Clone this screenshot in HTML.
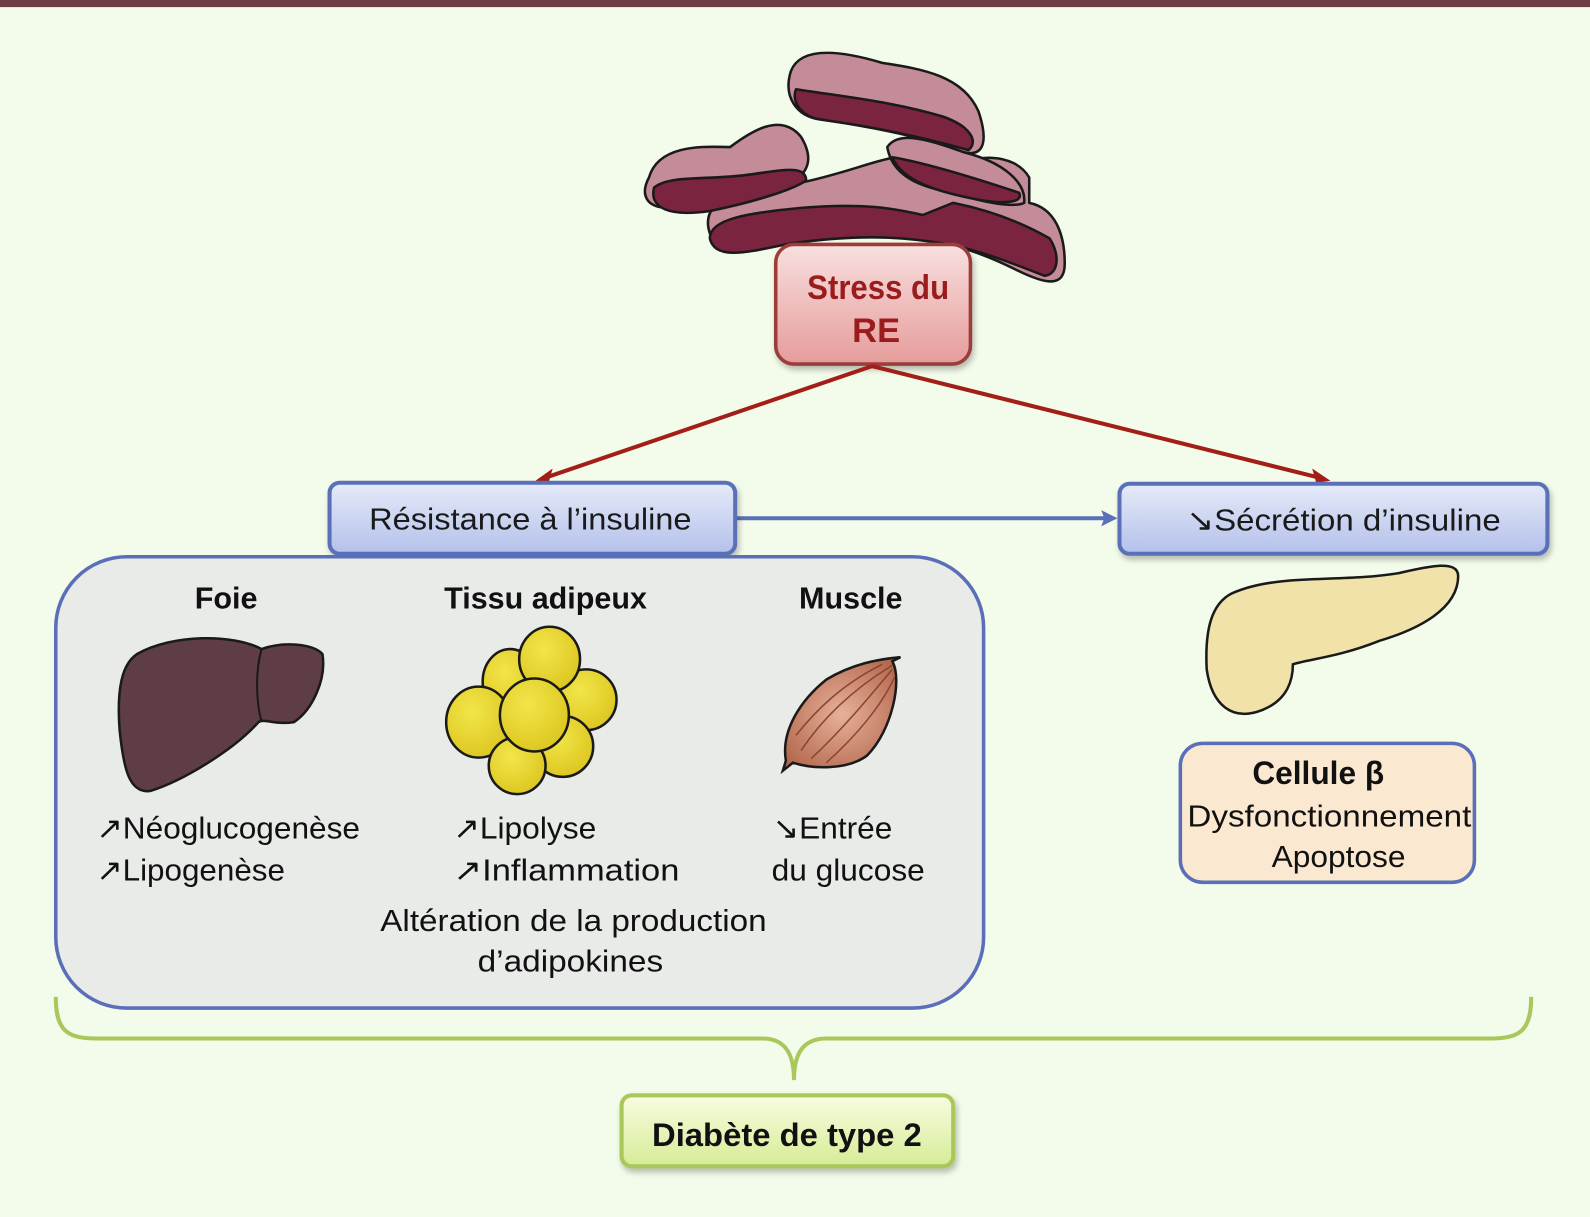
<!DOCTYPE html>
<html><head><meta charset="utf-8"><style>
html,body{margin:0;padding:0;background:#f3fbea;}
svg{display:block;}
text{font-family:"Liberation Sans",sans-serif;}
</style></head><body>
<svg width="1590" height="1217" viewBox="0 0 1568 1200" preserveAspectRatio="none" xmlns="http://www.w3.org/2000/svg">
<defs>
<linearGradient id="gr" x1="0" y1="0" x2="0" y2="1"><stop offset="0" stop-color="#f8e0e0"/><stop offset="1" stop-color="#e59c9a"/></linearGradient>
<linearGradient id="gb" x1="0" y1="0" x2="0" y2="1"><stop offset="0" stop-color="#e6ebf9"/><stop offset="1" stop-color="#b3c0ea"/></linearGradient>
<linearGradient id="gg" x1="0" y1="0" x2="0" y2="1"><stop offset="0" stop-color="#f7fce0"/><stop offset="1" stop-color="#d6ec96"/></linearGradient>
<radialGradient id="gy" cx="0.4" cy="0.35" r="0.7"><stop offset="0" stop-color="#f2e64a"/><stop offset="1" stop-color="#dcc51f"/></radialGradient>
<radialGradient id="gm" cx="0.5" cy="0.5" r="0.6"><stop offset="0" stop-color="#e7b09a"/><stop offset="1" stop-color="#b4694e"/></radialGradient>
<filter id="sh" x="-10%" y="-10%" width="130%" height="140%"><feDropShadow dx="2" dy="4" stdDeviation="3" flood-color="#000" flood-opacity="0.25"/></filter>
</defs>
<rect width="1568" height="1200" fill="#f3fbea"/>
<rect width="1568" height="7" fill="#6e3b47"/>

<!-- ER -->
<g stroke="#1a1a1a" stroke-width="2.5" stroke-linejoin="round">
<path d="M700 230 C690 200 720 185 790 180 C840 170 880 150 900 155 L930 170 C960 150 1000 150 1015 175 L1015 200 C1040 205 1050 230 1050 260 C1050 285 1030 280 1000 265 C970 250 950 245 920 235 C880 225 850 225 780 230 C740 240 710 255 700 230 Z" fill="#c48c98"/>
<path d="M700 235 C700 215 740 210 790 205 C850 200 880 205 910 212 L940 200 C965 205 1000 215 1035 235 C1045 250 1045 270 1030 272 C995 258 960 245 930 240 C880 232 840 232 780 240 C740 248 705 258 700 235 Z" fill="#7a2440"/>
<path d="M640 175 C650 140 700 145 720 145 C740 130 770 110 790 135 C805 160 795 175 770 185 C730 200 690 210 660 205 C635 205 632 190 640 175 Z" fill="#c48c98"/>
<path d="M645 185 C660 172 700 178 740 172 C770 168 795 162 795 178 C780 188 740 200 700 208 C660 214 640 205 645 185 Z" fill="#7a2440"/>
<path d="M780 70 C790 45 830 50 870 62 C910 68 950 75 965 110 C975 140 970 155 950 150 C910 135 860 125 810 118 C785 115 772 95 780 70 Z" fill="#c48c98"/>
<path d="M785 88 C830 95 880 100 930 115 C958 125 965 140 955 148 C910 135 860 125 810 118 C790 115 780 100 785 88 Z" fill="#7a2440"/>
<path d="M875 145 C885 130 910 135 950 150 C990 160 1012 180 1010 200 C1000 205 970 200 940 190 C910 185 880 175 875 145 Z" fill="#c48c98"/>
<path d="M880 155 C910 160 960 175 1005 190 C1010 200 990 202 960 196 C930 190 890 180 880 155 Z" fill="#7a2440"/>
</g>

<!-- Stress box -->
<rect x="765" y="241" width="192" height="118" rx="18" fill="url(#gr)" stroke="#9c3c3a" stroke-width="3.5" filter="url(#sh)"/>
<text x="866" y="295" font-size="34" font-weight="bold" fill="#9b1c1c" text-anchor="middle" textLength="140" lengthAdjust="spacingAndGlyphs">Stress du</text>
<text x="864" y="337" font-size="34" font-weight="bold" fill="#9b1c1c" text-anchor="middle">RE</text>

<!-- red arrows -->
<g stroke="#a31e16" stroke-width="4" fill="none">
<line x1="860" y1="361" x2="535" y2="472"/>
<line x1="860" y1="361" x2="1305" y2="472"/>
</g>
<path d="M528 474 L545 462 L541 476 Z" fill="#a31e16"/>
<path d="M1312 474 L1294 462 L1298 476 Z" fill="#a31e16"/>

<!-- blue arrow -->
<line x1="726" y1="511" x2="1092" y2="511" stroke="#5b70b8" stroke-width="4"/>
<path d="M1102 511 L1086 503 L1089 511 L1086 519 Z" fill="#5b70b8"/>

<!-- Résistance / Sécrétion boxes -->
<rect x="325" y="476" width="400" height="70" rx="10" fill="url(#gb)" stroke="#5a6fb8" stroke-width="4" filter="url(#sh)"/>
<text x="523" y="522" font-size="30" fill="#1a1a1a" text-anchor="middle" textLength="318" lengthAdjust="spacingAndGlyphs">Résistance à l’insuline</text>
<rect x="1104" y="477" width="422" height="69" rx="10" fill="url(#gb)" stroke="#5a6fb8" stroke-width="4" filter="url(#sh)"/>
<text x="1325" y="523" font-size="30" fill="#1a1a1a" text-anchor="middle" textLength="310" lengthAdjust="spacingAndGlyphs">↘Sécrétion d’insuline</text>

<!-- big gray box -->
<rect x="55" y="549" width="915" height="445" rx="70" fill="#e8ebe8" stroke="#5a6fb8" stroke-width="3.5"/>
<g font-size="30" font-weight="bold" fill="#111" text-anchor="middle">
<text x="223" y="600" textLength="62" lengthAdjust="spacingAndGlyphs">Foie</text>
<text x="538" y="600" textLength="200" lengthAdjust="spacingAndGlyphs">Tissu adipeux</text>
<text x="839" y="600" textLength="102" lengthAdjust="spacingAndGlyphs">Muscle</text>
</g>

<!-- liver -->
<path d="M135 645 C170 625 230 625 258 640 C280 632 310 635 318 645 C322 670 308 700 290 712 C270 715 260 708 255 712 C230 740 180 770 148 780 C128 782 122 760 118 720 C115 680 120 655 135 645 Z" fill="#5e3d47" stroke="#1a1a1a" stroke-width="2.5"/>
<path d="M258 640 C252 660 252 690 258 712" fill="none" stroke="#1a1a1a" stroke-width="2"/>

<!-- fat cells -->
<g stroke="#1a1a1a" stroke-width="2.5" fill="url(#gy)">
<ellipse cx="503" cy="672" rx="27" ry="32"/>
<ellipse cx="578" cy="690" rx="30" ry="30"/>
<ellipse cx="472" cy="712" rx="32" ry="35"/>
<ellipse cx="555" cy="736" rx="30" ry="30"/>
<ellipse cx="510" cy="755" rx="28" ry="28"/>
<ellipse cx="542" cy="650" rx="30" ry="32"/>
<ellipse cx="527" cy="705" rx="34" ry="36"/>
</g>

<!-- muscle -->
<path d="M880 652 C890 670 880 720 855 745 C835 760 800 758 782 752 L772 760 L775 750 C770 720 790 690 815 670 C840 655 865 650 888 648 Z" fill="url(#gm)" stroke="#1a1a1a" stroke-width="2.5"/>
<g stroke="#8a4530" stroke-width="1.5" fill="none">
<path d="M790 740 C810 710 840 680 880 656"/><path d="M800 748 C830 720 855 690 880 660"/><path d="M785 725 C805 700 830 675 870 655"/><path d="M815 752 C845 725 870 695 882 668"/>
</g>

<!-- texts in gray box -->
<g font-size="30" fill="#111">
<text x="95" y="827" textLength="260" lengthAdjust="spacingAndGlyphs">↗Néoglucogenèse</text>
<text x="95" y="868" textLength="186" lengthAdjust="spacingAndGlyphs">↗Lipogenèse</text>
<text x="447" y="827" textLength="141" lengthAdjust="spacingAndGlyphs">↗Lipolyse</text>
<text x="447" y="868" textLength="223" lengthAdjust="spacingAndGlyphs">↗Inflammation</text>
<text x="762" y="827" textLength="118" lengthAdjust="spacingAndGlyphs">↘Entrée</text>
<text x="761" y="868" textLength="151" lengthAdjust="spacingAndGlyphs">du glucose</text>
<text x="375" y="918" textLength="381" lengthAdjust="spacingAndGlyphs">Altération de la production</text>
<text x="471" y="958" textLength="183" lengthAdjust="spacingAndGlyphs">d’adipokines</text>
</g>

<!-- pancreas -->
<path d="M1215 585 C1260 565 1320 575 1380 565 C1410 558 1438 552 1438 568 C1438 600 1400 620 1360 632 C1320 648 1290 650 1275 655 C1275 670 1270 690 1245 700 C1215 712 1195 695 1190 660 C1188 620 1195 595 1215 585 Z" fill="#f0e2a8" stroke="#1a1a1a" stroke-width="2.5"/>

<!-- cellule box -->
<rect x="1164" y="733" width="290" height="137" rx="22" fill="#fae8d0" stroke="#5a6fb8" stroke-width="3.5"/>
<text x="1300" y="773" font-size="32" font-weight="bold" fill="#111" text-anchor="middle" textLength="130" lengthAdjust="spacingAndGlyphs">Cellule β</text>
<text x="1311" y="815" font-size="30" fill="#111" text-anchor="middle" textLength="280" lengthAdjust="spacingAndGlyphs">Dysfonctionnement</text>
<text x="1320" y="855" font-size="30" fill="#111" text-anchor="middle" textLength="132" lengthAdjust="spacingAndGlyphs">Apoptose</text>

<!-- brace -->
<path d="M55 983 C55 1015 65 1024 95 1024 L752 1024 C775 1024 783 1040 783 1065 C783 1040 791 1024 815 1024 L1470 1024 C1500 1024 1510 1015 1510 983" fill="none" stroke="#a9c75a" stroke-width="4"/>

<!-- diabete box -->
<rect x="613" y="1080" width="327" height="70" rx="10" fill="url(#gg)" stroke="#a9c75a" stroke-width="4" filter="url(#sh)"/>
<text x="776" y="1130" font-size="32" font-weight="bold" fill="#111" text-anchor="middle" textLength="266" lengthAdjust="spacingAndGlyphs">Diabète de type 2</text>
</svg>
</body></html>
